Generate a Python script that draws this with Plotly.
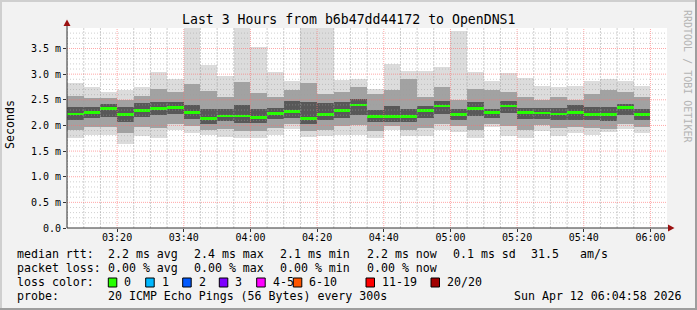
import plotly.graph_objects as go
import numpy as np
import pandas as pd

# ---------------- data ----------------
DAY = "2026-04-12 "
bar_end = ["03:10", "03:15", "03:20", "03:25", "03:30", "03:35", "03:40", "03:45",
           "03:50", "03:55", "04:00", "04:05", "04:10", "04:15", "04:20", "04:25",
           "04:30", "04:35", "04:40", "04:45", "04:50", "04:55", "05:00", "05:05",
           "05:10", "05:15", "05:20", "05:25", "05:30", "05:35", "05:40", "05:45",
           "05:50", "05:55", "06:00"]
# RTT smoke levels in ms (outer max/min, mid band, inner band, median)
rtt_max = [2.82, 2.75, 2.65, 2.69, 2.74, 3.04, 2.90, 3.95, 3.18, 2.96, 3.95, 3.53,
           3.04, 2.87, 3.95, 3.95, 2.88, 2.90, 2.72, 3.20, 3.07, 3.07, 3.13, 3.84,
           3.05, 2.86, 3.03, 2.92, 2.76, 2.74, 2.76, 2.86, 2.90, 2.86, 2.76]
rtt_hi_mid = [2.58, 2.53, 2.53, 2.49, 2.58, 2.72, 2.66, 2.80, 2.68, 2.56, 2.85, 2.63,
              2.55, 2.69, 2.83, 2.62, 2.66, 2.75, 2.62, 2.69, 2.90, 2.56, 2.75, 2.49,
              2.72, 2.69, 2.66, 2.56, 2.50, 2.55, 2.49, 2.62, 2.70, 2.66, 2.56]
rtt_hi_in = [2.36, 2.36, 2.42, 2.36, 2.44, 2.46, 2.46, 2.40, 2.32, 2.32, 2.40, 2.33,
             2.34, 2.47, 2.45, 2.43, 2.45, 2.52, 2.30, 2.38, 2.32, 2.38, 2.48, 2.32,
             2.45, 2.33, 2.48, 2.34, 2.34, 2.34, 2.40, 2.36, 2.36, 2.42, 2.33]
rtt_median = [2.22, 2.25, 2.33, 2.21, 2.29, 2.33, 2.35, 2.25, 2.14, 2.18, 2.18, 2.16,
              2.23, 2.27, 2.14, 2.21, 2.29, 2.40, 2.17, 2.17, 2.17, 2.29, 2.38, 2.21,
              2.33, 2.25, 2.38, 2.25, 2.24, 2.22, 2.25, 2.21, 2.21, 2.35, 2.21]
rtt_lo_in = [2.10, 2.14, 2.17, 2.07, 2.17, 2.20, 2.22, 2.12, 2.03, 2.08, 2.05, 2.05,
             2.12, 2.15, 2.03, 2.10, 2.15, 2.20, 2.06, 2.06, 2.06, 2.15, 2.22, 2.10,
             2.18, 2.14, 2.25, 2.12, 2.12, 2.10, 2.10, 2.10, 2.08, 2.20, 2.10]
rtt_lo_mid = [1.92, 1.97, 1.97, 1.85, 1.97, 1.95, 2.02, 1.98, 1.92, 1.93, 1.90, 1.90,
              1.95, 2.02, 1.90, 1.92, 1.98, 2.00, 1.90, 1.98, 1.92, 1.95, 2.02, 1.98,
              1.92, 2.03, 1.98, 1.92, 2.00, 1.95, 1.97, 1.95, 1.93, 2.02, 1.97]
rtt_min = [1.75, 1.81, 1.81, 1.64, 1.79, 1.75, 1.91, 1.86, 1.81, 1.78, 1.75, 1.75,
           1.81, 1.93, 1.78, 1.80, 1.81, 1.81, 1.75, 1.91, 1.79, 1.79, 1.91, 1.87,
           1.75, 1.96, 1.80, 1.75, 1.90, 1.79, 1.86, 1.81, 1.87, 1.93, 1.85]

x_tick_labels = ["03:20", "03:40", "04:00", "04:20", "04:40", "05:00", "05:20", "05:40", "06:00"]
y_tick_vals = [0.0, 0.5, 1.0, 1.5, 2.0, 2.5, 3.0, 3.5]
y_tick_text = ["0.0", "0.5 m", "1.0 m", "1.5 m", "2.0 m", "2.5 m", "3.0 m", "3.5 m"]

title = "Last 3 Hours from b6b47dd44172 to OpenDNS1"
rtt_line = ["2.2 ms avg", "2.4 ms max", "2.1 ms min", "2.2 ms now", "0.1 ms sd", "31.5", "am/s"]
loss_line = ["0.00 % avg", "0.00 % max", "0.00 % min", "0.00 % now"]
loss_labels = ["0", "1", "2", "3", "4-5", "6-10", "11-19", "20/20"]
loss_colors = ["#26ff00", "#00b8ff", "#0059ff", "#7e00ff", "#ff00ff", "#ff5500", "#ff0000", "#a10000"]
probe_text = "20 ICMP Echo Pings (56 Bytes) every 300s"
stamp_text = "Sun Apr 12 06:04:58 2026"

# ---------------- geometry helpers ----------------
W, H = 697, 310
L, R, T, B = 67, 667, 28, 228
def X(px):
    return (px - L) / (R - L)
def Y(py):
    return (B - py) / (B - T)

FONT = "DejaVu Sans Mono"
x_start = pd.Timestamp(DAY + "03:04:58")
x_end = x_start + pd.Timedelta(hours=3)
xs = [DAY + t for t in bar_end]
STEP_MS = 300000

fig = go.Figure()

def band(lo, hi, color):
    fig.add_trace(go.Bar(
        x=xs, base=lo, y=[h - l for h, l in zip(hi, lo)],
        width=STEP_MS, offset=-STEP_MS,
        marker=dict(color=color, line=dict(width=0)),
        hoverinfo="skip", showlegend=False))

band(rtt_min, rtt_max, "#dcdcdc")
band(rtt_lo_mid, rtt_hi_mid, "#a2a2a2")
band(rtt_lo_in, rtt_hi_in, "#585858")
MED_H = 0.05
fig.add_trace(go.Bar(
    x=xs, base=[m - MED_H / 2 for m in rtt_median], y=[MED_H] * len(rtt_median),
    width=STEP_MS, offset=-STEP_MS,
    marker=dict(color="#26ff00", line=dict(width=0)),
    hoverinfo="skip", showlegend=False))

shapes = []
# grid (drawn above the smoke, like rrdtool)
minor_col = "rgba(160,160,160,0.5)"
major_col = "rgba(255,110,110,0.6)"
t = pd.Timestamp(DAY + "03:05")
while t <= x_end:
    is_major = (t.minute % 20 == 0)
    shapes.append(dict(type="line", xref="x", yref="paper", x0=t, x1=t, y0=0, y1=1,
                       line=dict(color=major_col if is_major else minor_col, width=1,
                                 dash="1px,1px" if is_major else "2px,1px"),
                       layer="above"))
    t += pd.Timedelta(minutes=5)
for k in range(1, 39):
    v = k / 10
    is_major = (k % 5 == 0)
    shapes.append(dict(type="line", xref="paper", yref="y", x0=0, x1=1, y0=v, y1=v,
                       line=dict(color=major_col if is_major else minor_col, width=1,
                                 dash="1px,1px" if is_major else "1px,2px"),
                       layer="above"))

# axes with arrows
axis_col = "#333333"
arrow_col = "#9b1010"
shapes.append(dict(type="line", xref="paper", yref="paper", x0=X(67), x1=X(67), y0=Y(228), y1=Y(24),
                   line=dict(color=axis_col, width=1), layer="above"))
shapes.append(dict(type="line", xref="paper", yref="paper", x0=X(67), x1=X(670), y0=Y(228), y1=Y(228),
                   line=dict(color=axis_col, width=1), layer="above"))
shapes.append(dict(type="path", xref="paper", yref="paper",
                   path=f"M {X(63.5)} {Y(26)} L {X(70.5)} {Y(26)} L {X(67)} {Y(19.5)} Z",
                   fillcolor=arrow_col, line=dict(width=0), layer="above"))
shapes.append(dict(type="path", xref="paper", yref="paper",
                   path=f"M {X(668)} {Y(224.5)} L {X(668)} {Y(231.5)} L {X(674.5)} {Y(228)} Z",
                   fillcolor=arrow_col, line=dict(width=0), layer="above"))

# frame
shapes.append(dict(type="rect", xref="paper", yref="paper", x0=X(0), x1=X(697), y0=Y(0), y1=Y(2),
                   fillcolor="#cfcfcf", line=dict(width=0), layer="above"))
shapes.append(dict(type="rect", xref="paper", yref="paper", x0=X(0), x1=X(2), y0=Y(0), y1=Y(310),
                   fillcolor="#cfcfcf", line=dict(width=0), layer="above"))
shapes.append(dict(type="rect", xref="paper", yref="paper", x0=X(0), x1=X(697), y0=Y(308), y1=Y(310),
                   fillcolor="#9e9e9e", line=dict(width=0), layer="above"))
shapes.append(dict(type="rect", xref="paper", yref="paper", x0=X(695), x1=X(697), y0=Y(0), y1=Y(310),
                   fillcolor="#9e9e9e", line=dict(width=0), layer="above"))

annotations = []
def text(px, py, s, size=11.6, color="#000000", anchor="left", angle=0):
    annotations.append(dict(x=X(px), y=Y(py), xref="paper", yref="paper", text=s,
                            showarrow=False, xanchor=anchor, yanchor="middle",
                            textangle=angle, borderpad=0,
                            font=dict(family=FONT, size=size, color=color)))

text(348.5, 19, title, size=13.2, anchor="center")
text(10, 125, "Seconds", size=11.6, anchor="center", angle=-90)
text(688, 76, "RRDTOOL / TOBI OETIKER", size=10, color="#b4b4b4", anchor="center", angle=90)

LY = [254, 268, 282, 296]
text(16, LY[0], "median rtt:")
for xp, s in zip([107.3, 193.3, 279.3, 366, 451.7, 530, 579.3], rtt_line):
    text(xp, LY[0], s)
text(16, LY[1], "packet loss:")
for xp, s in zip([107.3, 193.3, 279.3, 366], loss_line):
    text(xp, LY[1], s)
text(16, LY[2], "loss color:")
box_x = [108.3, 145.7, 182.7, 219.3, 256.7, 293.3, 366, 431]
for xp, lab, col in zip(box_x, loss_labels, loss_colors):
    shapes.append(dict(type="rect", xref="paper", yref="paper",
                       x0=X(xp), x1=X(xp + 8.5), y0=Y(278), y1=Y(287),
                       fillcolor=col, line=dict(color="#000000", width=1), layer="above"))
    text(xp + 15, LY[2], lab)
text(16, LY[3], "probe:")
text(107.3, LY[3], probe_text)
text(513.3, LY[3], stamp_text)

fig.update_layout(
    width=W, height=H,
    margin=dict(l=L, r=W - R, t=T, b=H - B, pad=0),
    paper_bgcolor="#f2f2f2", plot_bgcolor="#ffffff",
    barmode="overlay", bargap=0,
    showlegend=False,
    shapes=shapes, annotations=annotations,
    font=dict(family=FONT, size=10, color="#000000"),
    xaxis=dict(type="date", range=[x_start, x_end], showgrid=False, zeroline=False,
               showline=False, tickmode="array",
               tickvals=[DAY + s for s in x_tick_labels], ticktext=x_tick_labels,
               ticks="outside", ticklen=3, tickcolor=axis_col, tickwidth=1,
               ticklabelstandoff=-3,
               tickfont=dict(family=FONT, size=10, color="#000000"),
               fixedrange=True),
    yaxis=dict(range=[0, 3.9], showgrid=False, zeroline=False, showline=False,
               tickmode="array", tickvals=y_tick_vals, ticktext=y_tick_text,
               ticks="outside", ticklen=3, tickcolor=axis_col, tickwidth=1,
               tickfont=dict(family=FONT, size=10, color="#000000"),
               fixedrange=True),
)

fig.write_html("out.html", config={"displayModeBar": False})
